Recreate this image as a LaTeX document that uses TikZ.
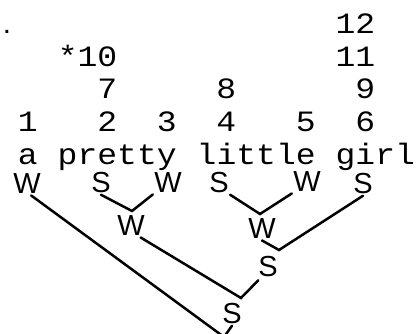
\documentclass[tikz,border=0pt]{standalone}
\usepackage{fontspec}
\newfontfamily\typewriter[FakeStretch=1.12]{Liberation Mono}
\newfontfamily\hand{Liberation Sans}
\tikzset{
    typed/.style={
        font={\typewriter\fontsize{29.5}{29.5}\selectfont},
        inner sep=0pt,
        anchor=base
    },
    stress/.style={
        font={\hand\fontsize{29}{29}\selectfont},
        inner sep=0pt,
        outer sep=1.5pt
    },
    branch/.style={
        line width=2.5pt,
        line cap=round
    }
}
\begin{document}
\begin{tikzpicture}[
    x=1pt,
    y=-1pt
]

    \useasboundingbox (0,0) rectangle (416,334);
    \clip (0,0) rectangle (416,334);

    % Numeros
    \node[typed, font={\hand\fontsize{29.5}{29.5}\selectfont}] (dot) at (7,34) {.};
    \node[typed] (n12) at (355.5,34)  {12};
    \node[typed] (n10) at (87.5,66.5) {*10};
    \node[typed] (n11) at (355.5,66.5){11};
    \node[typed] (n7)  at (107.3,99)  {7};
    \node[typed] (n8)  at (226.4,99)  {8};
    \node[typed] (n9)  at (365.4,99)  {9};
    \node[typed] (n1)  at (27.9,132)  {1};
    \node[typed] (n2)  at (107.3,132) {2};
    \node[typed] (n3)  at (166.9,132) {3};
    \node[typed] (n4)  at (226.4,132) {4};
    \node[typed] (n5)  at (305.8,132) {5};
    \node[typed] (n6)  at (365.4,132) {6};

    % Palabras
    \node[typed] (wa)      at (27.9,164.5)  {a};
    \node[typed] (wpretty) at (117.2,164.5) {pretty};
    \node[typed] (wlittle) at (256.2,164.5) {little};
    \node[typed] (wgirl)   at (375.3,164.5) {girl};

    % Etiquetas
    \node[stress] (w1)  at (27,184)  {W};
    \node[stress] (s2)  at (101,183) {S};
    \node[stress] (w3)  at (168,183) {W};
    \node[stress] (s4)  at (219,183) {S};
    \node[stress] (w5)  at (307,182) {W};
    \node[stress] (s6)  at (363,184) {S};
    \node[stress] (w7)  at (131,226) {W};
    \node[stress] (w8)  at (262,229) {W};
    \node[stress, outer ysep=3pt, outer xsep=0pt] (s9) at (268,267) {S};
    \node[stress] (s10) at (232,314) {S};

    % Uniones
    \coordinate (j7)  at (132,211);
    \coordinate (j8)  at (260,214);
    \coordinate (j9)  at (279,250);
    \coordinate (j10) at (241,298);
    \coordinate (j11) at (224,337);

    % Ramas
    \draw[branch] (s2.south)      -- (j7)  -- (w3.south west);
    \draw[branch] (s4.south east) -- (j8)  -- (w5.south west);
    \draw[branch] (w8.south)      -- (j9)  -- (s6.south);
    \draw[branch] (w7.-50)        -- (j10) -- (s9.south west);
    \draw[branch] (w1.-70)        -- (j11) -- (s10.south);

\end{tikzpicture}
\end{document}
